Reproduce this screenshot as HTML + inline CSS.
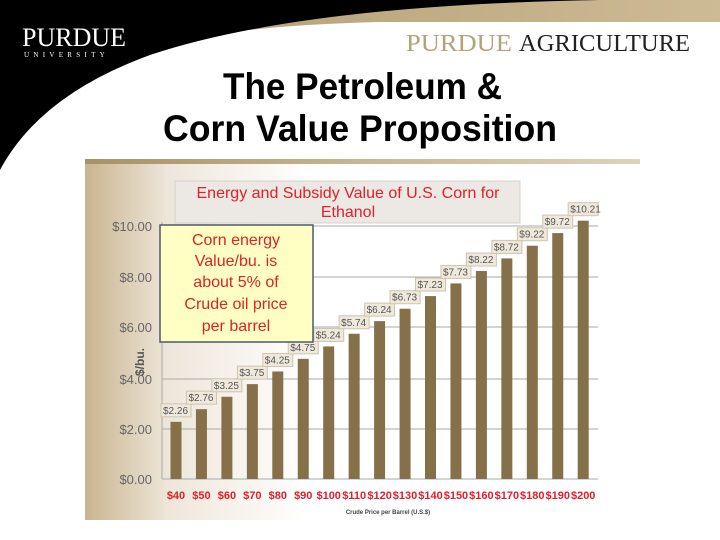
<!DOCTYPE html>
<html><head><style>
body{margin:0;width:720px;height:540px;overflow:hidden;background:#fff;font-family:"Liberation Sans",sans-serif;position:relative}
.a{position:absolute}
</style></head><body>
<svg class="a" style="left:0;top:0" width="720" height="540">
<defs>
<linearGradient id="g1" x1="0" x2="1" y1="0" y2="0"><stop offset="0" stop-color="#c9b48f"/><stop offset="0.15" stop-color="#eee6da"/><stop offset="0.4" stop-color="#fff"/></linearGradient>
<linearGradient id="g2" x1="0" x2="1"><stop offset="0" stop-color="#a89168"/><stop offset="0.5" stop-color="#c7b692"/><stop offset="1" stop-color="#ddd2bb"/></linearGradient>
<linearGradient id="g3" x1="0" x2="1"><stop offset="0" stop-color="#b8a47c"/><stop offset="1" stop-color="#cdbb95"/></linearGradient>
</defs>
<path d="M250,0 L720,0 L720,22 L380,22 Q300,24 250,30 Z" fill="url(#g3)"/>
<path d="M0,0 L600,0 Q300,5 150,55 Q40,95 0,170 Z" fill="#000"/>
<rect x="85" y="160" width="555" height="360" fill="url(#g1)"/>
<rect x="85" y="159" width="555" height="5" fill="url(#g2)"/>
<g stroke="#aaa" stroke-width="1">
<line x1="162" x2="598" y1="479" y2="479"/>
<line x1="162" x2="598" y1="429" y2="429"/>
<line x1="162" x2="598" y1="379" y2="379"/>
<line x1="162" x2="598" y1="327" y2="327"/>
<line x1="162" x2="598" y1="277" y2="277"/>
<line x1="162" x2="598" y1="226" y2="226"/>
<line x1="162" x2="162" y1="222" y2="479"/>
</g>
<g id="bars" fill="#85704a"></g>
<g id="lbl" font-size="10" fill="#555"></g>
<g id="xl" font-size="11" font-weight="bold" fill="#e0202a" text-anchor="middle"></g>
<g font-size="13" fill="#666" text-anchor="end">
<text x="152" y="484">$0.00</text><text x="152" y="434">$2.00</text><text x="152" y="384">$4.00</text>
<text x="152" y="332">$6.00</text><text x="152" y="282">$8.00</text><text x="152" y="231">$10.00</text>
</g>
<text x="0" y="0" font-size="12" font-weight="bold" fill="#555" transform="translate(144,362) rotate(-90)" text-anchor="middle">$/bu.</text>
<text x="388" y="514" font-size="6" font-weight="bold" fill="#444" text-anchor="middle">Crude Price per Barrel (U.S.$)</text>
<rect x="175" y="181" width="345" height="42" fill="#ece8e4" stroke="#d8d0c8"/>
<text x="348" y="198" font-size="16" fill="#e0202a" text-anchor="middle">Energy and Subsidy Value of U.S. Corn for</text>
<text x="348" y="217" font-size="16" fill="#e0202a" text-anchor="middle">Ethanol</text>
<rect x="160" y="225" width="153" height="117" fill="#ffffc4" stroke="#4a5a6a" stroke-width="1.5"/>
<g font-size="16" fill="#e0202a" text-anchor="middle">
<text x="236" y="245">Corn energy</text><text x="236" y="266">Value/bu. is</text>
<text x="236" y="287">about 5% of</text><text x="236" y="309">Crude oil price</text>
<text x="236" y="331">per barrel</text></g>
<text x="22" y="46" font-family="Liberation Serif" font-size="26" fill="#fff">PURDUE</text>
<text x="24" y="57" font-family="Liberation Serif" font-size="7" fill="#fff" letter-spacing="4.3">UNIVERSITY</text>
<text x="406" y="51" font-family="Liberation Serif" font-size="24" fill="#b5a27a" textLength="106" lengthAdjust="spacingAndGlyphs">PURDUE</text>
<text x="519" y="51" font-family="Liberation Serif" font-size="24" fill="#222" textLength="171" lengthAdjust="spacingAndGlyphs">AGRICULTURE</text>
<text x="223" y="99" font-size="37" font-weight="bold" fill="#000" textLength="279" lengthAdjust="spacingAndGlyphs">The Petroleum &amp;</text>
<text x="163" y="141" font-size="37" font-weight="bold" fill="#000" textLength="394" lengthAdjust="spacingAndGlyphs">Corn Value Proposition</text>
</svg>
<script>
var v=[2.26,2.76,3.25,3.75,4.25,4.75,5.24,5.74,6.24,6.73,7.23,7.73,8.22,8.72,9.22,9.72,10.21];
var ns="http://www.w3.org/2000/svg",b=document.getElementById('bars'),l=document.getElementById('lbl'),x=document.getElementById('xl');
v.forEach(function(d,i){var cx=176+i*25.45,h=d*25.3,y=479-h;
var r=document.createElementNS(ns,'rect');r.setAttribute('x',cx-5.5);r.setAttribute('y',y);r.setAttribute('width',11);r.setAttribute('height',h);b.appendChild(r);
var bx=document.createElementNS(ns,'rect');bx.setAttribute('x',cx-15);bx.setAttribute('y',y-18);bx.setAttribute('width',30);bx.setAttribute('height',13);bx.setAttribute('fill','#efe9dc');bx.setAttribute('stroke','#cfc4ae');l.appendChild(bx);
var t=document.createElementNS(ns,'text');t.setAttribute('x',cx-13);t.setAttribute('y',y-8);t.textContent='$'+d.toFixed(2);l.appendChild(t);
var t2=document.createElementNS(ns,'text');t2.setAttribute('x',cx);t2.setAttribute('y',499);t2.textContent='$'+(40+i*10);x.appendChild(t2);});
</script>
</body></html>
